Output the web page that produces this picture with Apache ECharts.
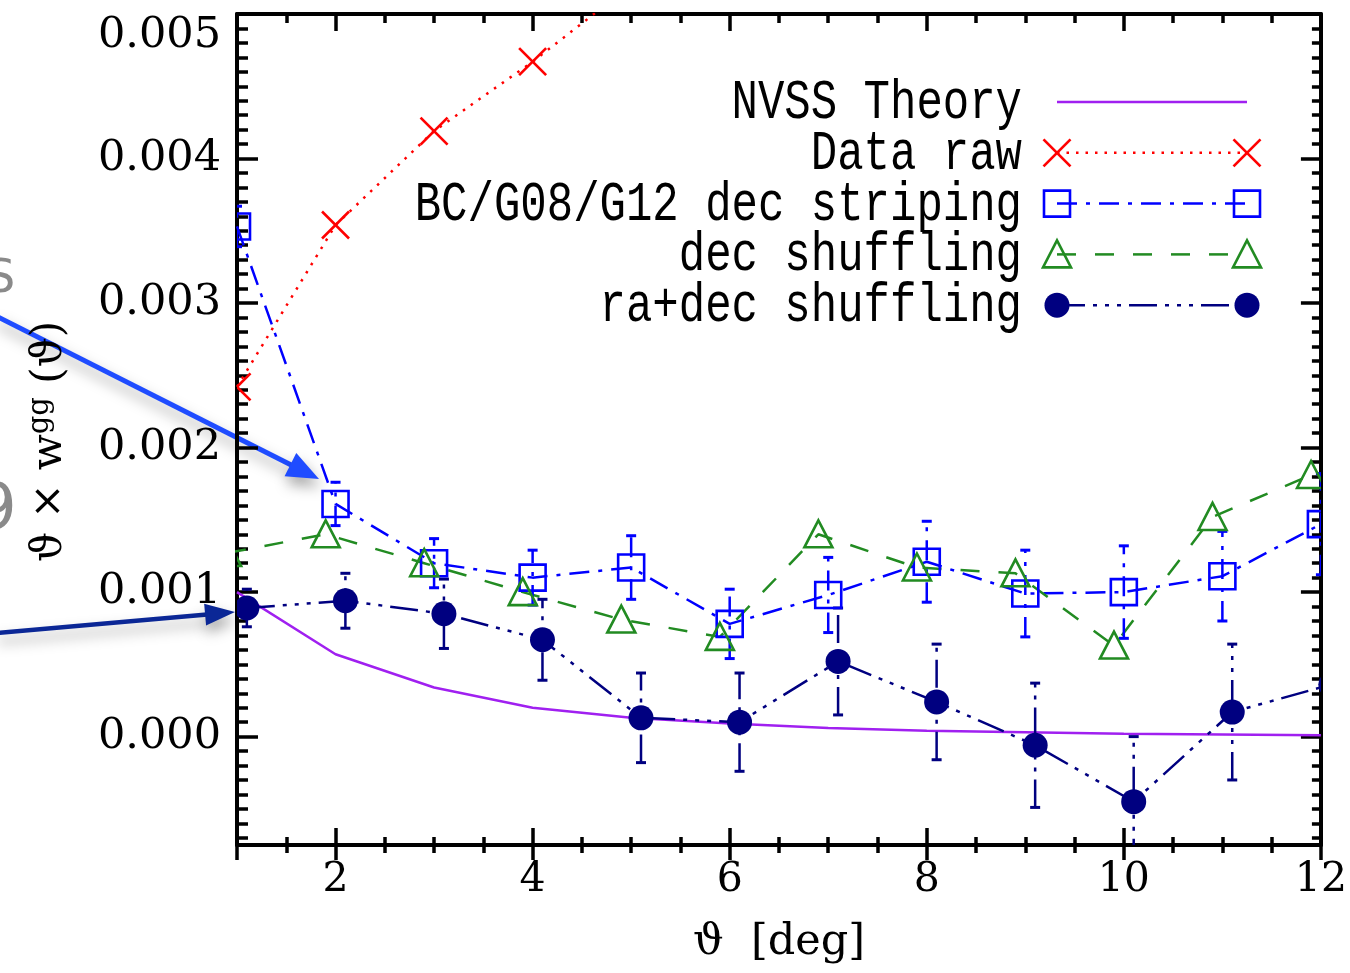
<!DOCTYPE html>
<html>
<head>
<meta charset="utf-8">
<script src="https://cdn.jsdelivr.net/npm/echarts@6/dist/echarts.min.js"></script>
<style>
html,body{margin:0;padding:0;background:#fff;}
#chart{width:1350px;height:973px;}
</style>
</head>
<body>
<div id="chart"></div>
<script>
// ---------------- data ----------------
const thetaBase = [1, 2, 3, 4, 5, 6, 7, 8, 9, 10, 11, 12];
const theoryY   = [0.00100, 0.00057, 0.00034, 0.00020, 0.00013, 0.00009, 0.00006, 0.00004, 0.00003, 0.00002, 0.000015, 0.00001];

const rawX = [1, 2, 3, 4, 5];
const rawY = [0.00242, 0.00354, 0.00419, 0.00467, 0.00520];

const stripeX   = [1, 2, 3, 4, 5, 6, 7, 8, 9, 10, 11, 12];
const stripeY   = [0.00353, 0.00161, 0.00120, 0.00110, 0.00117, 0.00078, 0.00098, 0.00121, 0.00099, 0.00100, 0.00111, 0.00147];
const stripeErr = [0.00014, 0.00015, 0.00017, 0.00019, 0.00022, 0.00024, 0.00026, 0.00028, 0.00030, 0.00032, 0.00031, 0.00035];

const decX = [0.9, 1.9, 2.9, 3.9, 4.9, 5.9, 6.9, 7.9, 8.9, 9.9, 10.9, 11.9];
const decY = [0.00127, 0.00140, 0.00120, 0.00100, 0.00081, 0.00069, 0.00140, 0.00117, 0.00113, 0.00063, 0.00152, 0.00181];

const radecX   = [1.1, 2.1, 3.1, 4.1, 5.1, 6.1, 7.1, 8.1, 9.1, 10.1, 11.1, 12.1];
const radecY   = [0.00089, 0.00094, 0.00085, 0.00067, 0.00013, 0.00010, 0.00052, 0.00024, -0.00006, -0.00045, 0.00017, 0.00036];
const radecErr = [0.00013, 0.00019, 0.00024, 0.00028, 0.00031, 0.00034, 0.00037, 0.00040, 0.00043, 0.00045, 0.00047, 0.00050];

const xLabelTicks = [2, 4, 6, 8, 10, 12];
const xMajorTicks = [1, 2, 4, 6, 8, 10, 12];
const yLabelTicks = [0, 0.001, 0.002, 0.003, 0.004, 0.005];
const xMin = 1, xMax = 12, yMin = -0.00075, yMax = 0.005;

const legendNames = ['NVSS Theory', 'Data raw', 'BC/G08/G12 dec striping', 'dec shuffling', 'ra+dec shuffling'];

// ---------------- styles ----------------
const C = {theory:'#a020f0', raw:'#ff0000', stripe:'#0000ff', dec:'#228b22', radec:'#000080'};
const DASH = {raw:[2.5, 7], stripe:[20, 9, 4, 9], dec:[19, 19], radec:[28, 8, 4, 8, 4, 8, 4, 8]};
const LW = 2.5;

const xMinorTicks = [];
for (let i = 2; i <= 24; i++) xMinorTicks.push(i / 2);
const yMinorTicks = [];
for (let i = -7; i <= 50; i++) yMinorTicks.push(Number((i * 1e-4).toFixed(5)));

function markerEl(kind, cx, cy) {
  if (kind === 'raw') {
    const h = 13.5;
    return {type:'group', children:[
      {type:'line', shape:{x1:cx-h, y1:cy-h, x2:cx+h, y2:cy+h}, style:{stroke:C.raw, lineWidth:2.6}},
      {type:'line', shape:{x1:cx+h, y1:cy-h, x2:cx-h, y2:cy+h}, style:{stroke:C.raw, lineWidth:2.6}}
    ]};
  }
  if (kind === 'stripe') {
    return {type:'rect', shape:{x:cx-13, y:cy-13, width:26, height:26}, style:{fill:'none', stroke:C.stripe, lineWidth:2.6}};
  }
  if (kind === 'dec') {
    return {type:'polygon', shape:{points:[[cx, cy-14], [cx+14, cy+13], [cx-14, cy+13]]}, style:{fill:'none', stroke:C.dec, lineWidth:2.6}};
  }
  return {type:'circle', shape:{cx:cx, cy:cy, r:12.5}, style:{fill:C.radec}};
}

function lineSeries(name, xs, ys, color, dash, z) {
  return {
    name: name, type:'line', data: xs.map((x, i) => [x, ys[i]]),
    symbol:'none', clip:true, z:z, animation:false,
    lineStyle:{color:color, width:LW, type: dash ? dash : 'solid'}
  };
}

function markerSeries(kind, xs, ys, z) {
  return {
    type:'custom', data: xs.map((x, i) => [x, ys[i]]), clip:true, z:z, animation:false,
    encode:{x:0, y:1},
    renderItem: function(params, api) {
      const p = api.coord([api.value(0), api.value(1)]);
      return markerEl(kind, p[0], p[1]);
    }
  };
}

function errSeries(xs, ys, es, color, dash, z) {
  return {
    type:'custom', data: xs.map((x, i) => [x, ys[i] - es[i], ys[i] + es[i]]), clip:true, z:z, animation:false,
    encode:{x:0, y:[1, 2]},
    renderItem: function(params, api) {
      const x = api.value(0);
      const lo = api.coord([x, api.value(1)]);
      const hi = api.coord([x, api.value(2)]);
      return {type:'group', children:[
        {type:'line', shape:{x1:lo[0], y1:lo[1], x2:hi[0], y2:hi[1]}, style:{stroke:color, lineWidth:LW, lineDash:dash}},
        {type:'line', shape:{x1:lo[0]-5, y1:lo[1], x2:lo[0]+5, y2:lo[1]}, style:{stroke:color, lineWidth:3}},
        {type:'line', shape:{x1:hi[0]-5, y1:hi[1], x2:hi[0]+5, y2:hi[1]}, style:{stroke:color, lineWidth:3}}
      ]};
    }
  };
}

// ---------------- axes ----------------
const axisLineStyle = {show:true, onZero:false, lineStyle:{color:'#000', width:4}};
const noLine = {show:false, onZero:false};
const tickStyle = {color:'#000', width:3.5};
function xAx(opts) {
  return Object.assign({
    type:'value', min:xMin, max:xMax, gridIndex:0,
    axisLine:noLine, splitLine:{show:false}, axisLabel:{show:false},
    axisTick:{show:false}
  }, opts);
}
function yAx(opts) {
  return Object.assign({
    type:'value', min:yMin, max:yMax, gridIndex:0,
    axisLine:noLine, splitLine:{show:false}, axisLabel:{show:false},
    axisTick:{show:false}
  }, opts);
}

const xAxes = [
  xAx({position:'bottom', axisLine:axisLineStyle,
       axisTick:{show:true, inside:true, length:17, customValues:xMajorTicks, lineStyle:tickStyle},
       axisLabel:{show:true, customValues:xLabelTicks, margin:15, color:'#000', fontFamily:'DejaVu Serif', fontSize:41},
       name:'ϑ  [deg]', nameLocation:'middle', nameGap:76,
       nameTextStyle:{color:'#000', fontFamily:'DejaVu Serif', fontSize:43}}),
  xAx({position:'bottom', axisTick:{show:true, inside:false, length:15, customValues:xMajorTicks, lineStyle:tickStyle}}),
  xAx({position:'bottom', axisTick:{show:true, inside:true, length:8, customValues:xMinorTicks, lineStyle:tickStyle}}),
  xAx({position:'bottom', axisTick:{show:true, inside:false, length:8, customValues:xMinorTicks, lineStyle:tickStyle}}),
  xAx({position:'top', axisLine:axisLineStyle, axisTick:{show:true, inside:true, length:17, customValues:xMajorTicks, lineStyle:tickStyle}}),
  xAx({position:'top', axisTick:{show:true, inside:true, length:9, customValues:xMinorTicks, lineStyle:tickStyle}})
];
const yAxes = [
  yAx({position:'left', axisLine:axisLineStyle,
       axisTick:{show:true, inside:true, length:21, customValues:yLabelTicks, lineStyle:tickStyle},
       axisLabel:{show:true, customValues:yLabelTicks, margin:16, color:'#000', fontFamily:'DejaVu Serif', fontSize:43,
                  formatter: v => v.toFixed(3), verticalAlignMaxLabel:'top'},
       name:'{a|ϑ × w}{s|gg}{e| (ϑ)}', nameLocation:'middle', nameGap:162,
       nameTextStyle:{color:'#000', fontFamily:'DejaVu Serif', fontSize:42,
         rich:{a:{fontFamily:'DejaVu Serif', fontSize:42, color:'#000'},
               e:{fontFamily:'DejaVu Serif', fontSize:42, color:'#000', padding:[0,24,0,0]},
               s:{fontFamily:'DejaVu Serif', fontSize:29, color:'#000', padding:[0,0,20,0]}}}}),
  yAx({position:'left', axisTick:{show:true, inside:true, length:11, customValues:yMinorTicks, lineStyle:tickStyle}}),
  yAx({position:'right', axisLine:axisLineStyle, axisTick:{show:true, inside:true, length:20, customValues:yLabelTicks, lineStyle:tickStyle}}),
  yAx({position:'right', axisTick:{show:true, inside:true, length:9, customValues:yMinorTicks, lineStyle:tickStyle}})
];

// ---------------- legend (graphic) ----------------
const legendKinds = ['theory', 'raw', 'stripe', 'dec', 'radec'];
const legendEls = [];
const lgTextRight = 1022, lgX1 = 1057, lgX2 = 1247, lgY0 = 102, lgStep = 50.8;
legendKinds.forEach((k, i) => {
  const y = lgY0 + i * lgStep;
  legendEls.push({type:'text', x:lgTextRight, y:y + 1, scaleY:1.28, style:{text:legendNames[i], fill:'#000',
    font:'44px "Liberation Mono"', textAlign:'right', textVerticalAlign:'middle'}});
  if (k === 'theory') {
    legendEls.push({type:'line', shape:{x1:lgX1, y1:y, x2:lgX2, y2:y}, style:{stroke:C.theory, lineWidth:LW}});
  } else {
    legendEls.push({type:'line', shape:{x1:lgX1, y1:y, x2:lgX2, y2:y}, style:{stroke:C[k], lineWidth:LW, lineDash:DASH[k]}});
    legendEls.push(markerEl(k, lgX1, y));
    legendEls.push(markerEl(k, lgX2, y));
  }
});

// ---------------- annotation arrows ----------------
function arrow(x0, y0, x1, y1, color, w, headL, headW) {
  const ang = Math.atan2(y1 - y0, x1 - x0);
  const bx = x1 - headL * Math.cos(ang), by = y1 - headL * Math.sin(ang);
  const nx = -Math.sin(ang), ny = Math.cos(ang);
  const shadow = {shadowBlur:14, shadowColor:'rgba(0,0,0,0.35)', shadowOffsetX:2, shadowOffsetY:8};
  return {type:'group', z:50, children:[
    {type:'line', shape:{x1:x0, y1:y0, x2:bx + 2*Math.cos(ang), y2:by + 2*Math.sin(ang)}, style:Object.assign({stroke:color, lineWidth:w}, shadow)},
    {type:'polygon', shape:{points:[[x1, y1], [bx + nx*headW, by + ny*headW], [bx - nx*headW, by - ny*headW]]}, style:Object.assign({fill:color}, shadow)}
  ]};
}
const annotEls = [
  arrow(-4, 316, 319, 479, '#1f4cff', 5, 32, 13),
  arrow(-4, 633, 235, 612, '#0b2796', 4.5, 30, 11),
  {type:'text', x:-14, y:280, style:{text:'S', fill:'#8a8a8a', font:'46px "DejaVu Sans"', textVerticalAlign:'middle'}},
  {type:'text', x:-24, y:512, style:{text:'9', fill:'#8a8a8a', font:'64px "DejaVu Sans"', textVerticalAlign:'middle'}}
];

// ---------------- series ----------------
const series = [
  lineSeries('NVSS Theory', thetaBase, theoryY, C.theory, null, 2),
  lineSeries('Data raw', rawX, rawY, C.raw, DASH.raw, 3),
  lineSeries('BC/G08/G12 dec striping', stripeX, stripeY, C.stripe, DASH.stripe, 3),
  lineSeries('dec shuffling', decX, decY, C.dec, DASH.dec, 3),
  lineSeries('ra+dec shuffling', radecX, radecY, C.radec, DASH.radec, 3),
  errSeries(stripeX, stripeY, stripeErr, C.stripe, DASH.stripe, 4),
  errSeries(radecX, radecY, radecErr, C.radec, DASH.radec, 4),
  markerSeries('raw', rawX, rawY, 5),
  markerSeries('stripe', stripeX, stripeY, 5),
  markerSeries('dec', decX, decY, 5),
  markerSeries('radec', radecX, radecY, 5)
];

const chart = echarts.init(document.getElementById('chart'), null, {renderer:'canvas'});
chart.setOption({
  backgroundColor:'#fff',
  animation:false,
  grid:{left:237, right:23, top:14, bottom:128, containLabel:false},
  xAxis: xAxes,
  yAxis: yAxes,
  series: series,
  graphic: legendEls.concat(annotEls)
});
</script>
</body>
</html>
